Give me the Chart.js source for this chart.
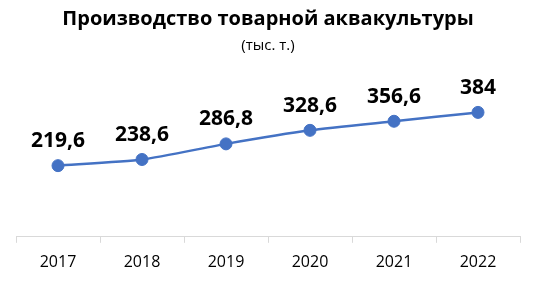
<!DOCTYPE html>
<html>
<head>
<meta charset="utf-8">
<script src="https://cdn.jsdelivr.net/npm/chart.js@4/dist/chart.umd.min.js"></script>
<style>
html,body{margin:0;padding:0;background:#fff;}
#wrap{width:558px;height:288px;}
</style>
</head>
<body>
<div id="wrap"><canvas id="c" width="558" height="288"></canvas></div>
<script>
const years = ['2017', '2018', '2019', '2020', '2021', '2022'];
const production = [219.6, 238.6, 286.8, 328.6, 356.6, 384];
const titleText = 'Производство товарной аквакультуры';
const subtitleText = '(тыс. т.)';

const FONT = "'Open Sans', 'DejaVu Sans', sans-serif";

const labelPlugin = {
  id: 'pointLabels',
  afterDatasetsDraw(chart) {
    const ctx = chart.ctx;
    const meta = chart.getDatasetMeta(0);
    ctx.save();
    ctx.font = 'bold 21px ' + FONT;
    ctx.fillStyle = '#000000';
    ctx.textAlign = 'center';
    ctx.textBaseline = 'alphabetic';
    meta.data.forEach((pt, i) => {
      const v = chart.data.datasets[0].data[i];
      const txt = String(v).replace('.', ',');
      ctx.fillText(txt, pt.x, pt.y - 18.5);
    });
    ctx.restore();
  }
};

new Chart(document.getElementById('c'), {
  type: 'line',
  data: {
    labels: years,
    datasets: [{
      data: production,
      borderColor: '#4472C4',
      backgroundColor: '#4472C4',
      borderWidth: 2.5,
      pointRadius: 6,
      pointBorderWidth: 1,
      pointHoverRadius: 6,
      pointBackgroundColor: '#4472C4',
      pointBorderColor: '#4472C4',
      tension: 0.2,
      clip: false
    }]
  },
  options: {
    responsive: false,
    animation: false,
    events: [],
    layout: { padding: { left: 16, right: 38, top: 0, bottom: 6 } },
    plugins: {
      legend: { display: false },
      tooltip: { enabled: false },
      title: {
        display: true,
        text: titleText,
        color: '#000000',
        font: { family: FONT, size: 20, weight: 'bold', lineHeight: 1.2 },
        padding: { top: 7, bottom: 6 }
      },
      subtitle: {
        display: true,
        text: subtitleText,
        color: '#000000',
        font: { family: FONT, size: 15, weight: 'normal', lineHeight: 1.2 },
        padding: { top: 0, bottom: 36 }
      }
    },
    scales: {
      x: {
        offset: true,
        border: { display: true, color: '#D9D9D9', width: 1 },
        grid: { display: true, drawOnChartArea: false, drawTicks: true, tickLength: 6, color: '#D9D9D9', offset: true },
        ticks: { color: '#000000', padding: 10, font: { family: FONT, size: 16 }, maxRotation: 0 }
      },
      y: {
        display: false,
        min: 0,
        max: 450
      }
    }
  },
  plugins: [labelPlugin]
});
</script>
</body>
</html>
